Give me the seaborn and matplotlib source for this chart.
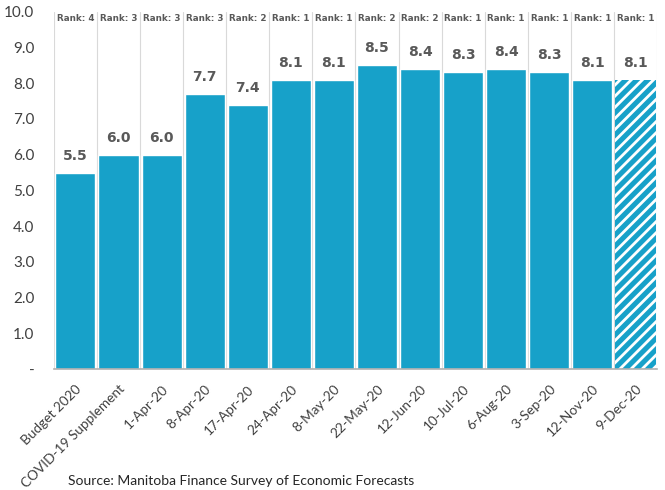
import matplotlib
matplotlib.use("Agg")
import matplotlib.pyplot as plt
import seaborn as sns
import pandas as pd

categories = ["Budget 2020", "COVID-19 Supplement", "1-Apr-20", "8-Apr-20", "17-Apr-20",
              "24-Apr-20", "8-May-20", "22-May-20", "12-Jun-20", "10-Jul-20",
              "6-Aug-20", "3-Sep-20", "12-Nov-20", "9-Dec-20"]
values = [5.5, 6.0, 6.0, 7.7, 7.4, 8.1, 8.1, 8.5, 8.4, 8.3, 8.4, 8.3, 8.1, 8.1]
ranks = [4, 3, 3, 3, 2, 1, 1, 2, 2, 1, 1, 1, 1, 1]
ytick_values = [0, 1, 2, 3, 4, 5, 6, 7, 8, 9, 10]
ytick_labels = ["-", "1.0", "2.0", "3.0", "4.0", "5.0", "6.0", "7.0", "8.0", "9.0", "10.0"]

BAR = "#17a1c9"
TEXT = "#595959"

sns.set_theme(style="white")
plt.rcParams["font.family"] = ["Lato", "DejaVu Sans"]
plt.rcParams["hatch.color"] = "white"
plt.rcParams["hatch.linewidth"] = 2.0

df = pd.DataFrame({"date": categories, "growth": values})

fig = plt.figure(figsize=(6.65, 4.9), dpi=100)
ax = fig.add_axes([0.081, 0.247, 0.907, 0.729])

sns.barplot(data=df, x="date", y="growth", color=BAR, saturation=1,
            width=0.93, ax=ax, zorder=2)

# latest survey shown hatched
last = ax.patches[len(categories) - 1]
last.set_hatch("///")
last.set_edgecolor("white")
last.set_linewidth(0)

ax.set_xlim(-0.5, len(categories) - 0.5)
ax.set_ylim(0, 10)

# thin separators between columns
for i in range(len(categories) + 1):
    ax.axvline(i - 0.5, color="#d9d9d9", lw=0.8, zorder=1)

for i, (v, r) in enumerate(zip(values, ranks)):
    ax.text(i, v + 0.28, f"{v:.1f}", ha="center", va="bottom",
            fontsize=10, fontweight="bold", color=TEXT, family="DejaVu Sans")
    ax.text(i, 9.93, f"Rank: {r}", ha="center", va="top",
            fontsize=6.3, fontweight="bold", color=TEXT, family="DejaVu Sans")

ax.set_yticks(ytick_values)
ax.set_yticklabels(ytick_labels, fontsize=11, color="#404040")
ax.set_xticks(range(len(categories)))
ax.set_xticklabels(categories, rotation=45, ha="right", rotation_mode="anchor",
                   fontsize=9.8, color="#404040")
ax.tick_params(axis="x", length=0, pad=10)
ax.tick_params(axis="y", length=0, pad=14)
ax.set_xlabel("")
ax.set_ylabel("")

for s in ["top", "right", "left"]:
    ax.spines[s].set_visible(False)
ax.spines["bottom"].set_color("#b0b0b0")
ax.spines["bottom"].set_linewidth(1.2)

fig.text(0.102, 0.006, "Source: Manitoba Finance Survey of Economic Forecasts",
         fontsize=10, color="#262626", ha="left", va="bottom")

fig.savefig("out.png", dpi=100)
